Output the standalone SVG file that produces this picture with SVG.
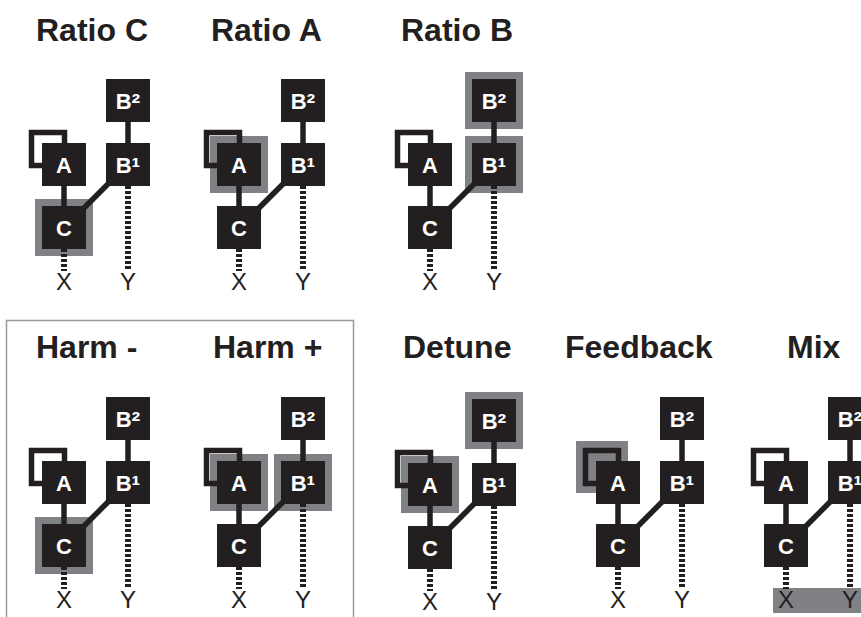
<svg xmlns="http://www.w3.org/2000/svg" width="861" height="617" viewBox="0 0 861 617">
<style>
.title{font-family:"Liberation Sans",Arial,sans-serif;font-weight:bold;font-size:32px;fill:#231f20}
.box{fill:#231f20}
.lbl{font-family:"Liberation Sans",Arial,sans-serif;font-weight:bold;font-size:22px;fill:#fff;text-anchor:middle}
.sup{font-size:26px}
.out{font-family:"Liberation Sans",Arial,sans-serif;font-size:24px;fill:#231f20;text-anchor:middle}
.hl{fill:#808184}
.con{stroke:#231f20;stroke-width:5.5;fill:none}
.dot{stroke:#231f20;stroke-width:6;stroke-dasharray:3 2;fill:none}
.loop{stroke:#231f20;stroke-width:5.5;fill:none}
</style>
<defs>
<g id="connectors-base">
<line class="con" x1="128" y1="120" x2="128" y2="146"/>
<line class="con" x1="64" y1="184" x2="64" y2="209"/>
<line class="con" x1="80" y1="212" x2="112" y2="180"/>
<line class="dot" x1="64" y1="249" x2="64" y2="271"/>
<line class="dot" x1="128" y1="186" x2="128" y2="271"/>
</g>
<g id="nodes-base">
<rect class="loop" x="31.5" y="132.5" width="33" height="33"/>
<rect class="box" x="42" y="143" width="44" height="43"/>
<text class="lbl" x="64" y="172.5">A</text>
<rect class="box" x="42" y="206" width="44" height="43"/>
<text class="lbl" x="64" y="235.5">C</text>
<rect class="box" x="106" y="143" width="44" height="43"/>
<text class="lbl" x="128" y="172.5">B<tspan class="sup" dy="3">¹</tspan></text>
<rect class="box" x="106" y="79" width="44" height="43"/>
<text class="lbl" x="128" y="108.5">B<tspan class="sup" dy="3">²</tspan></text>
<text class="out" x="64" y="290">X</text>
<text class="out" x="128" y="290">Y</text>
</g>
</defs>

<rect x="6.5" y="320.5" width="347" height="300" fill="none" stroke="#9a9a9a" stroke-width="1.5"/>

<g class="title">
<text x="36" y="41">Ratio C</text>
<text x="211" y="41">Ratio A</text>
<text x="401" y="41">Ratio B</text>
<text x="36" y="358">Harm -</text>
<text x="213" y="358">Harm +</text>
<text x="403" y="358">Detune</text>
<text x="565" y="358">Feedback</text>
<text x="787" y="358">Mix</text>
</g>

<g id="ratio-c">
<rect class="hl" x="35" y="199" width="58" height="57"/>
<g id="ratio-c-connectors"><use href="#connectors-base"/></g>
<g id="ratio-c-nodes"><use href="#nodes-base"/></g>
</g>

<g id="ratio-a" transform="translate(175,0)">
<rect class="hl" x="35" y="136" width="58" height="57"/>
<g id="ratio-a-connectors"><use href="#connectors-base"/></g>
<g id="ratio-a-nodes"><use href="#nodes-base"/></g>
</g>

<g id="ratio-b" transform="translate(366,0)">
<rect class="hl" x="99" y="72" width="58" height="57"/>
<rect class="hl" x="99" y="136" width="58" height="57"/>
<g id="ratio-b-connectors"><use href="#connectors-base"/></g>
<g id="ratio-b-nodes"><use href="#nodes-base"/></g>
</g>

<g id="harm-minus" transform="translate(0,318)">
<rect class="hl" x="35" y="199" width="58" height="57"/>
<g id="harm-minus-connectors"><use href="#connectors-base"/></g>
<g id="harm-minus-nodes"><use href="#nodes-base"/></g>
</g>

<g id="harm-plus" transform="translate(175,318)">
<rect class="hl" x="35" y="136" width="58" height="57"/>
<rect class="hl" x="99" y="136" width="58" height="57"/>
<g id="harm-plus-connectors"><use href="#connectors-base"/></g>
<g id="harm-plus-nodes"><use href="#nodes-base"/></g>
</g>

<g id="detune" transform="translate(366,320)">
<rect class="hl" x="35" y="136" width="58" height="57"/>
<rect class="hl" x="99" y="72" width="58" height="57"/>
<g id="detune-connectors"><use href="#connectors-base"/></g>
<g id="detune-nodes"><use href="#nodes-base"/></g>
</g>

<g id="feedback" transform="translate(554,318)">
<rect class="hl" x="22" y="123" width="52" height="52"/>
<g id="feedback-connectors"><use href="#connectors-base"/></g>
<g id="feedback-nodes"><use href="#nodes-base"/></g>
</g>

<g id="mix" transform="translate(722,318)">
<rect class="hl" x="51" y="270" width="100" height="25"/>
<g id="mix-connectors"><use href="#connectors-base"/></g>
<g id="mix-nodes"><use href="#nodes-base"/></g>
</g>
</svg>
